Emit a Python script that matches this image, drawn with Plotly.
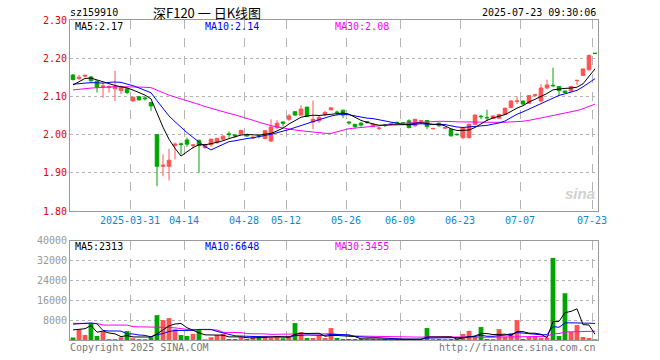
import pandas as pd
import plotly.graph_objects as go

# ---------------- data ----------------
holidays = ["2025-04-04", "2025-05-01", "2025-05-02", "2025-05-05", "2025-06-02"]
dates = [d.strftime("%Y-%m-%d") for d in pd.bdate_range("2025-03-17", "2025-07-23")
         if d.strftime("%Y-%m-%d") not in holidays]

opens = [2.156, 2.147, 2.153, 2.151, 2.140, 2.125, 2.123, 2.120, 2.115, 2.120,
         2.088, 2.099, 2.096, 2.084, 2.000, 1.917, 1.917, 1.972, 1.976, 1.986,
         1.971, 1.985, 1.966, 1.974, 1.979, 1.988, 2.002, 1.999, 2.002, 1.999,
         1.991, 1.997, 1.990, 1.983, 2.018, 2.033, 2.040, 2.060, 2.051, 2.072,
         2.033, 2.036, 2.052, 2.065, 2.059, 2.064, 2.033, 2.027, 2.030, 2.034,
         2.022, 2.016, 2.025, 2.028, 2.032, 2.031, 2.036, 2.023, 2.035, 2.037,
         2.015, 2.030, 2.017, 2.014, 2.001, 1.992, 1.992, 2.027, 2.048, 2.045,
         2.042, 2.043, 2.053, 2.071, 2.087, 2.088, 2.082, 2.103, 2.088, 2.122,
         2.129, 2.126, 2.114, 2.114, 2.141, 2.155, 2.170, 2.213]
highs = [2.158, 2.156, 2.157, 2.153, 2.142, 2.136, 2.130, 2.167, 2.128, 2.122,
         2.099, 2.100, 2.100, 2.086, 2.000, 1.948, 1.963, 1.979, 1.979, 1.992,
         1.975, 1.987, 1.976, 1.990, 1.992, 1.998, 2.008, 2.002, 2.013, 2.003,
         1.996, 2.000, 2.012, 2.040, 2.038, 2.034, 2.054, 2.061, 2.077, 2.072,
         2.089, 2.049, 2.062, 2.072, 2.063, 2.064, 2.035, 2.027, 2.033, 2.035,
         2.029, 2.021, 2.027, 2.031, 2.034, 2.033, 2.040, 2.041, 2.038, 2.038,
         2.018, 2.031, 2.020, 2.015, 2.003, 2.019, 2.029, 2.053, 2.052, 2.065,
         2.050, 2.054, 2.071, 2.090, 2.100, 2.088, 2.103, 2.107, 2.132, 2.144,
         2.175, 2.127, 2.115, 2.128, 2.143, 2.172, 2.210, 2.213]
lows = [2.142, 2.143, 2.150, 2.138, 2.110, 2.096, 2.110, 2.088, 2.106, 2.106,
        2.086, 2.089, 2.089, 2.062, 1.865, 1.891, 1.880, 1.935, 1.948, 1.968,
        1.963, 1.900, 1.963, 1.968, 1.976, 1.986, 1.992, 1.992, 2.000, 1.994,
        1.988, 1.990, 1.988, 1.981, 2.014, 2.021, 2.036, 2.050, 2.049, 2.046,
        2.014, 2.031, 2.049, 2.063, 2.051, 2.043, 2.026, 2.016, 2.021, 2.028,
        2.020, 2.012, 2.020, 2.026, 2.028, 2.027, 2.017, 2.021, 2.033, 2.014,
        2.014, 2.021, 2.015, 1.994, 1.997, 1.988, 1.990, 2.025, 2.040, 2.036,
        2.041, 2.042, 2.052, 2.069, 2.080, 2.078, 2.081, 2.098, 2.085, 2.119,
        2.124, 2.103, 2.108, 2.112, 2.130, 2.154, 2.166, 2.2125]
closes = [2.144, 2.150, 2.155, 2.141, 2.124, 2.127, 2.125, 2.126, 2.124, 2.110,
          2.098, 2.091, 2.094, 2.075, 1.917, 1.920, 1.933, 1.975, 1.974, 1.975,
          1.973, 1.971, 1.974, 1.988, 1.990, 1.996, 2.000, 1.997, 2.011, 1.997,
          1.993, 1.995, 2.010, 2.020, 2.030, 2.030, 2.049, 2.051, 2.067, 2.047,
          2.040, 2.045, 2.058, 2.070, 2.058, 2.051, 2.031, 2.021, 2.025, 2.032,
          2.027, 2.017, 2.024, 2.029, 2.031, 2.030, 2.018, 2.040, 2.036, 2.021,
          2.016, 2.023, 2.018, 1.997, 2.000, 2.018, 2.027, 2.051, 2.047, 2.044,
          2.049, 2.053, 2.069, 2.088, 2.088, 2.080, 2.102, 2.104, 2.122, 2.130,
          2.128, 2.115, 2.110, 2.126, 2.142, 2.172, 2.207, 2.2125]
volumes = [1000, 4400, 2000, 6700, 1600, 3300, 400, 400, 1100, 3600,
           700, 300, 300, 1100, 10000, 8000, 8800, 4300, 2000, 1600,
           2500, 4000, 300, 1100, 2000, 2400, 400, 400, 1100, 400,
           1600, 1600, 1600, 900, 1300, 700, 1600, 6800, 3200, 800,
           800, 1900, 800, 4800, 800, 400, 400, 400, 400, 300,
           400, 300, 400, 300, 300, 300, 300, 300, 300, 4800,
           400, 400, 400, 400, 400, 2400, 3700, 1200, 5200, 400,
           400, 4400, 1300, 2800, 8000, 400, 1200, 1200, 800, 800,
           33000, 1600, 18800, 3300, 6000, 1200, 800, 250]

# sessions before the visible window (read back from where the MA lines start)
pre_closes = [2.09, 2.10, 2.11, 2.10, 2.09, 2.10, 2.11, 2.12, 2.11, 2.10, 2.11, 2.115,
              2.11, 2.12, 2.115, 2.12, 2.125, 2.11, 2.115, 2.12,
              2.13, 2.14, 2.135, 2.13, 2.135, 2.105, 2.115, 2.136, 2.150]
pre_volumes = [4400, 2000, 6700, 1600, 23300, 400, 400, 1100, 3600, 20700, 300, 300, 1100,
               12000, 9000, 14000, 10000, 11700, 10000, 3400,
               2900, 2900, 2900, 5000, 30000, 2500, 1500, 300, 15000]

tick_dates = ["2025-03-31", "2025-04-14", "2025-04-28", "2025-05-12", "2025-05-26",
              "2025-06-09", "2025-06-23", "2025-07-07", "2025-07-23"]
tick_labels = ["2025-03-31", "04-14", "04-28", "05-12", "05-26",
               "06-09", "06-23", "07-07", "07-23"]
price_ticks = [1.80, 1.90, 2.00, 2.10, 2.20, 2.30]
vol_ticks = [8000, 16000, 24000, 32000, 40000]

header_code = "sz159910"
header_title = "深F120 一 日K线图"
header_time = "2025-07-23 09:30:06"
price_ma_text = ["MA5:2.17", "MA10:2.14", "MA30:2.08"]
vol_ma_text = ["MA5:2313", "MA10:6648", "MA30:3455"]

# ---------------- derived ----------------
n = len(closes)
x = list(range(n))
npre = len(pre_closes)
cs = pd.Series(pre_closes + closes)
vs = pd.Series(pre_volumes + volumes)
ma = {k: cs.rolling(k).mean().iloc[npre:].tolist() for k in (5, 10, 30)}
vma = {k: vs.rolling(k).mean().iloc[npre:].tolist() for k in (5, 10, 30)}

RED = "#ff5252"
GREEN = "#00a600"
MA_COL = {5: "#000000", 10: "#0000ff", 30: "#ff00ff"}
FONT = "DejaVu Sans Mono"
GRID = "#b4b4b4"
FRAME = "#9a9a9a"

bar_cols = [RED if c >= o else GREEN for o, c in zip(opens, closes)]

fig = go.Figure()
fig.add_trace(go.Candlestick(
    x=x, open=opens, high=highs, low=lows, close=closes,
    increasing=dict(line=dict(color=RED, width=1), fillcolor=RED),
    decreasing=dict(line=dict(color=GREEN, width=1), fillcolor=GREEN),
    xaxis="x", yaxis="y", showlegend=False, hoverinfo="skip"))
for k in (30, 10, 5):
    fig.add_trace(go.Scatter(x=x, y=ma[k], mode="lines",
                             line=dict(color=MA_COL[k], width=1),
                             xaxis="x", yaxis="y", showlegend=False, hoverinfo="skip"))

fig.add_trace(go.Bar(x=x, y=volumes, marker=dict(color=bar_cols, line=dict(width=0)),
                     width=0.8, xaxis="x2", yaxis="y2", showlegend=False, hoverinfo="skip"))
for k in (30, 10, 5):
    fig.add_trace(go.Scatter(x=x, y=vma[k], mode="lines",
                             line=dict(color=MA_COL[k], width=1),
                             xaxis="x2", yaxis="y2", showlegend=False, hoverinfo="skip"))

tickpos = [dates.index(d) - 0.5 for d in tick_dates]

L, R, T, B = 70, 598, 20, 340
W, H = 660, 360
pw, ph = R - L, B - T


def px(v):
    return (v - L) / pw


def py(v):
    return (B - v) / ph


main_dom = [py(211), 1.0]
vol_dom = [0.0, py(240.5)]

common_x = dict(range=[-0.5, n - 0.5], tickmode="array", tickvals=tickpos,
                showgrid=True, griddash="dash", gridcolor=GRID, gridwidth=1,
                showline=True, mirror=True, linecolor=FRAME, linewidth=1,
                zeroline=False, ticks="", fixedrange=True)

fig.update_layout(
    width=W, height=H,
    margin=dict(l=L, r=W - R, t=T, b=H - B),
    paper_bgcolor="white", plot_bgcolor="white",
    boxgap=0.15, bargap=0.2,
    font=dict(family=FONT, size=10, color="#000"),
    xaxis=dict(common_x, domain=[0, 1], anchor="y", ticktext=tick_labels,
               tickfont=dict(family=FONT, size=10, color="#0a88d2"),
               rangeslider=dict(visible=False)),
    xaxis2=dict(common_x, domain=[0, 1], anchor="y2", matches="x",
                showticklabels=False),
    yaxis=dict(domain=main_dom, range=[price_ticks[0], price_ticks[-1]],
               tickmode="array", tickvals=price_ticks,
               ticktext=[f"{v:.2f}" for v in price_ticks],
               tickfont=dict(family=FONT, size=10, color="#e60000"),
               showgrid=True, griddash="dot", gridcolor=GRID, gridwidth=1,
               showline=True, mirror=True, linecolor=FRAME, linewidth=1,
               zeroline=False, ticks="", fixedrange=True),
    yaxis2=dict(domain=vol_dom, range=[0, vol_ticks[-1]],
                tickmode="array", tickvals=vol_ticks,
                ticktext=[str(v) for v in vol_ticks],
                tickfont=dict(family=FONT, size=10, color="#999999"),
                showgrid=True, griddash="dot", gridcolor=GRID, gridwidth=1,
                showline=True, mirror=True, linecolor=FRAME, linewidth=1,
                zeroline=False, ticks="", fixedrange=True),
)


def note(text, xp, yp, xanchor="left", color="#000", size=10, family=FONT, **kw):
    fig.add_annotation(text=text, x=px(xp), y=py(yp), xref="paper", yref="paper",
                       xanchor=xanchor, yanchor="middle", showarrow=False,
                       font=dict(family=family, size=size, color=color),
                       borderpad=0, **kw)


note(header_code, 69, 13)
note(header_title, 207, 13, xanchor="center", size=13, family="Noto Sans CJK SC")
note(header_time, 597, 13, xanchor="right")
for txt, xp in zip(price_ma_text, (74, 204, 334)):
    note(txt, xp, 26, color=MA_COL[int(txt[2:txt.index(':')])])
for txt, xp in zip(vol_ma_text, (74, 204, 334)):
    note(txt, xp, 246, color=MA_COL[int(txt[2:txt.index(':')])])
note("Copyright 2025 SINA.COM", 69, 347, color="#777777")
note("http://finance.sina.com.cn", 597, 347, xanchor="right", color="#777777")
note("<i><b>sina</b></i>", 596, 193, xanchor="right", color="#d0d0d0", size=15,
     family="Liberation Sans")

fig.write_html("out.html",
               config={"displayModeBar": False, "staticPlot": True},
               post_script="document.body.style.margin='0';"
                           "document.body.style.overflow='hidden';")
